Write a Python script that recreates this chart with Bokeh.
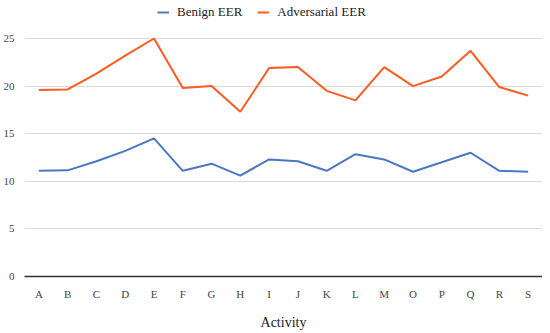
from bokeh.plotting import figure
from bokeh.models import ColumnDataSource, Legend, LegendItem, Range1d, FactorRange, SingleIntervalTicker
from bokeh.embed import file_html
from bokeh.resources import INLINE

activities = ["A", "B", "C", "D", "E", "F", "G", "H", "I", "J", "K", "L", "M", "O", "P", "Q", "R", "S"]
benign_eer = [11.1, 11.15, 12.1, 13.2, 14.5, 11.1, 11.85, 10.6, 12.3, 12.1, 11.1, 12.85, 12.3, 11.0, 12.0, 13.0, 11.1, 11.0]
adversarial_eer = [19.6, 19.65, 21.3, 23.2, 25.0, 19.8, 20.0, 17.3, 21.9, 22.0, 19.5, 18.5, 22.0, 20.0, 21.0, 23.7, 19.9, 19.0]

FONT = "Liberation Serif"

src = ColumnDataSource(dict(x=activities, b=benign_eer, a=adversarial_eer))

p = figure(x_range=FactorRange(*activities, range_padding=0), y_range=Range1d(0, 28.57),
           frame_width=518, frame_height=272, output_backend="svg", toolbar_location=None,
           min_border_left=16, min_border_right=0, min_border_top=4, min_border_bottom=0)
p.outline_line_color = None
p.background_fill_color = "white"

rb = p.line("x", "b", source=src, line_color="#4a78c2", line_width=2)
ra = p.line("x", "a", source=src, line_color="#ff5a1f", line_width=2)

p.xgrid.grid_line_color = None
p.ygrid.grid_line_color = "#d9d9d9"
p.ygrid.grid_line_width = 1
p.yaxis.ticker = SingleIntervalTicker(interval=5)
p.yaxis.axis_line_color = None
p.yaxis.major_tick_line_color = None
p.yaxis.minor_tick_line_color = None
p.yaxis.major_label_standoff = 4
p.xaxis.axis_line_color = "#333333"
p.xaxis.axis_line_width = 1.5
p.xaxis.major_tick_line_color = None
p.xaxis.minor_tick_line_color = None
p.xaxis.major_label_standoff = 5
for ax in (p.xaxis[0], p.yaxis[0]):
    ax.major_label_text_font = FONT
    ax.major_label_text_font_size = "11px"
    ax.major_label_text_color = "#444444"
p.xaxis.axis_label = "Activity"
p.xaxis.axis_label_text_font = FONT
p.xaxis.axis_label_text_font_style = "normal"
p.xaxis.axis_label_text_font_size = "14px"
p.xaxis.axis_label_text_color = "#222222"
p.xaxis.axis_label_standoff = 12

legend = Legend(items=[LegendItem(label="Benign EER", renderers=[rb]),
                       LegendItem(label="Adversarial EER", renderers=[ra])],
                orientation="horizontal", location=(133, 256),
                label_text_font=FONT, label_text_font_size="13px", label_text_color="#222222",
                label_height=16, glyph_width=12, glyph_height=16, label_standoff=8,
                spacing=15, padding=0, margin=0,
                border_line_color=None, background_fill_alpha=0)
p.add_layout(legend, "center")

open("out.html", "w").write(file_html(p, INLINE))
